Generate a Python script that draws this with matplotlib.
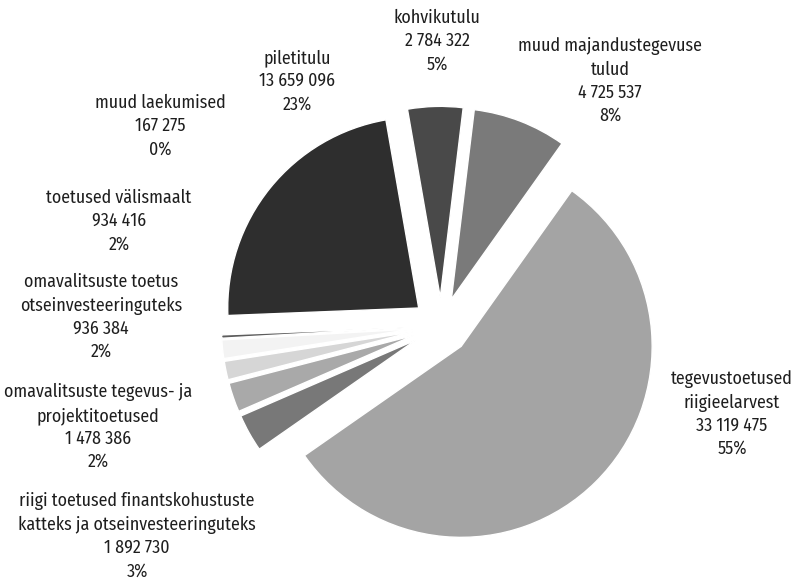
import matplotlib
matplotlib.use("Agg")
import matplotlib.pyplot as plt

plt.rcParams["font.family"] = ["Fira Sans Condensed", "DejaVu Sans"]

# data, in drawing order (clockwise)
categories = [
    "tegevustoetused\nriigieelarvest",
    "riigi toetused finantskohustuste\nkatteks ja otseinvesteeringuteks",
    "omavalitsuste tegevus- ja\nprojektitoetused",
    "omavalitsuste toetus\notseinvesteeringuteks",
    "toetused välismaalt",
    "muud laekumised",
    "piletitulu",
    "kohvikutulu",
    "muud majandustegevuse\ntulud",
]
amounts = [33119475, 1892730, 1478386, 936384, 934416, 167275, 13659096, 2784322, 4725537]
colors = ["#a4a4a4", "#787878", "#a9a9a9", "#d6d6d6", "#f3f3f3",
          "#5c5c5c", "#2e2e2e", "#494949", "#7a7a7a"]

# label block centres in pixels (x, y from top)
label_pos = [(732, 414), (137, 536), (98, 427), (101, 317), (119, 221),
             (160, 126), (297, 81), (437, 41), (610, 81)]

W, H = 795, 582
CX, CY, R = 441, 326, 191


def px(x, y):
    return (x - CX) / R, (CY - y) / R


fig = plt.figure(figsize=(W / 100, H / 100), dpi=100)
ax = fig.add_axes([0, 0, 1, 1])

ax.pie(amounts, explode=[0.15] * len(amounts), colors=colors,
       startangle=54.6, counterclock=False, radius=1,
       wedgeprops=dict(edgecolor="white", linewidth=1))

total = sum(amounts)
for name, val, (lx, ly) in zip(categories, amounts, label_pos):
    num = f"{val:,}".replace(",", " ")
    pct = f"{round(100 * val / total)}%"
    x, y = px(lx, ly)
    ax.text(x, y, f"{name}\n{num}\n{pct}", ha="center", va="center",
            fontsize=12.8, color="#1e1e1e", linespacing=1.38)

ax.set_xlim(-CX / R, (W - CX) / R)
ax.set_ylim(-(H - CY) / R, CY / R)
ax.set_aspect("auto")
ax.axis("off")

fig.savefig("out.png", dpi=100, facecolor="white")
plt.close(fig)
